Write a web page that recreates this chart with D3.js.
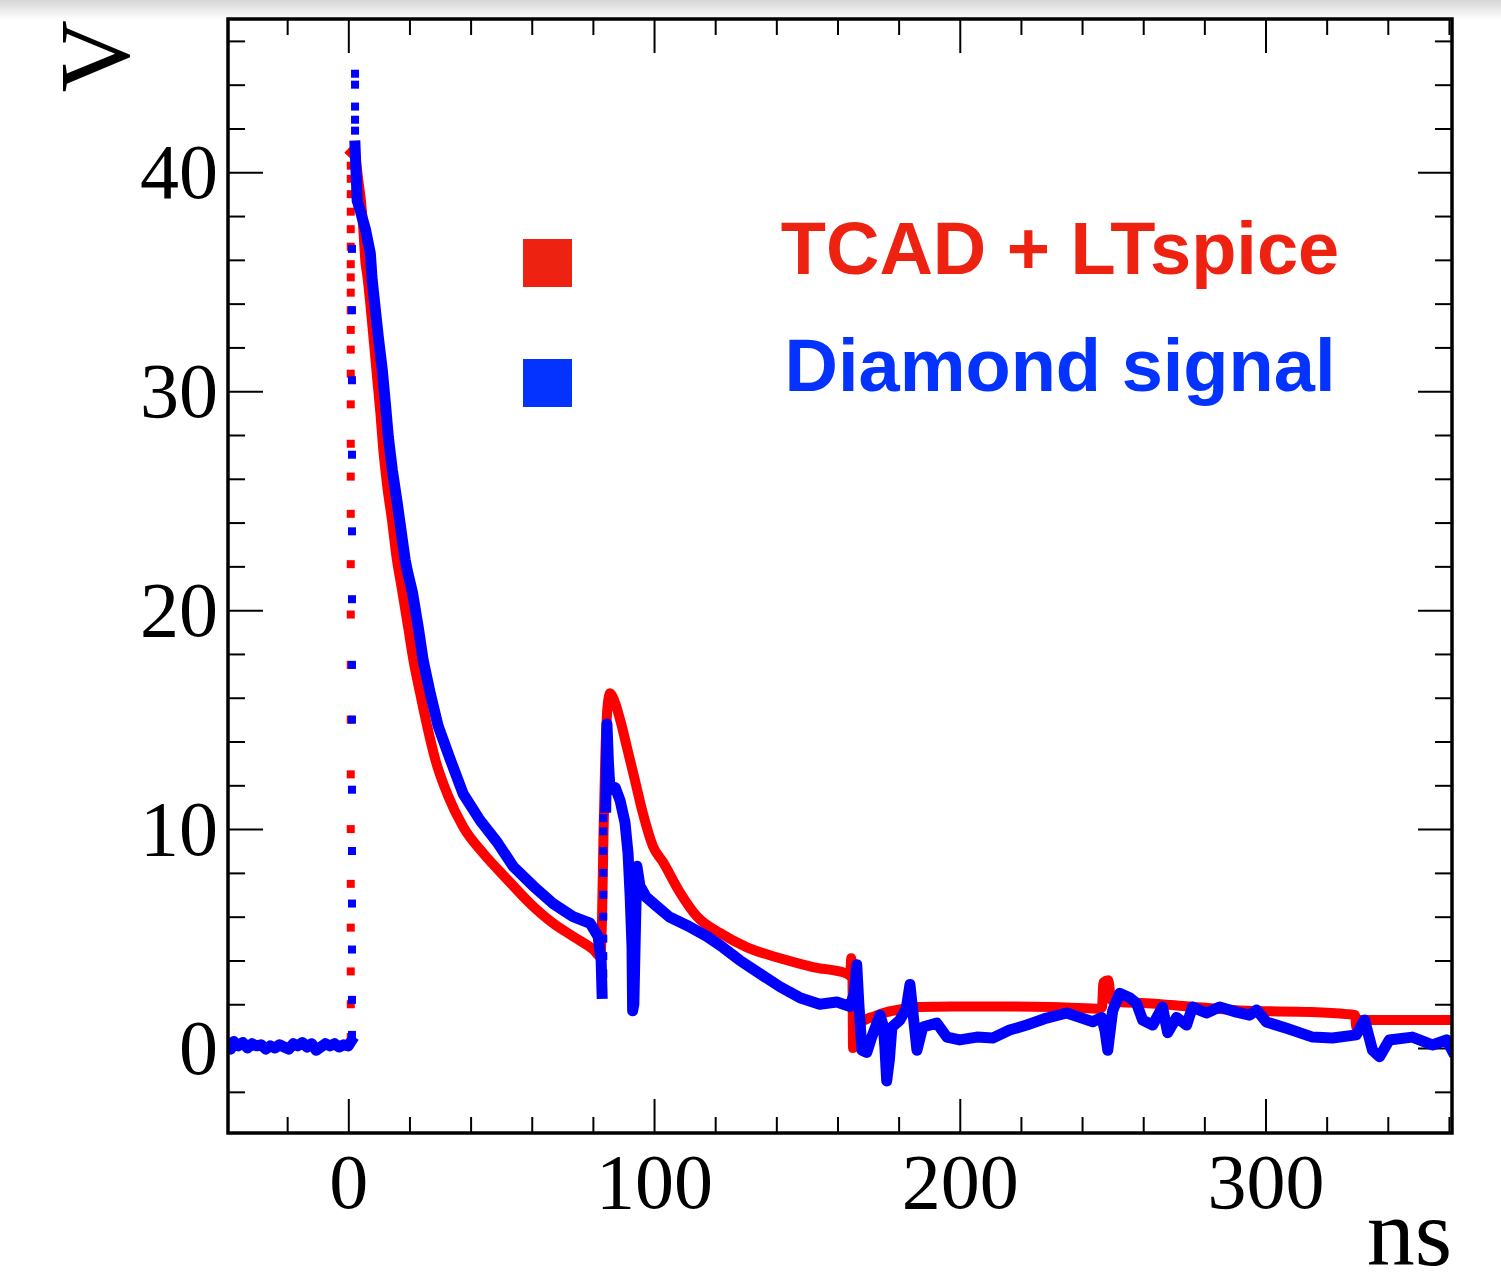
<!DOCTYPE html>
<html>
<head>
<meta charset="utf-8">
<script src="https://cdn.jsdelivr.net/npm/d3@7"></script>
<style>
  html, body { margin: 0; padding: 0; background: #fff; }
  svg { display: block; }
</style>
</head>
<body>
<svg id="chart" width="1501" height="1286"></svg>
<script>
// axis ranges (ns, V)
const xRange = [-39.35, 361.0];
const yRange = [-3.88, 47.0];
const xMajorTicks = [0, 100, 200, 300];
const yMajorTicks = [0, 10, 20, 30, 40];
const xTitle = "ns";
const yTitle = "V";

const legendLabels = ["TCAD + LTspice", "Diamond signal"];
const legendColors = ["#ee2211", "#0433ff"];

// TCAD + LTspice simulation, [ns, V]
const tcadRise = [
  [0.8, 0.5], [0.8, 2.0], [0.8, 3.5], [0.8, 5.5], [0.8, 7.5], [0.8, 10.0], [0.8, 12.5],
  [0.8, 15.0], [0.8, 17.5], [0.8, 19.8], [0.8, 22.1], [0.8, 24.4], [0.8, 26.1],
  [0.8, 27.6], [0.8, 29.4], [0.8, 30.8], [0.8, 31.9], [0.8, 32.8], [0.8, 33.7],
  [0.8, 34.5], [0.8, 35.2], [0.8, 35.8], [0.8, 36.6], [0.8, 37.4], [0.8, 38.2],
  [0.8, 39.0], [0.8, 39.7], [0.8, 40.3]
];
const tcadCurve = [
  [1.0, 40.9], [2.0, 41.0], [2.6, 40.4], [3.3, 39.6], [4.2, 38.6], [4.9, 37.4], [5.6, 35.9],
  [6.2, 35.3], [7.2, 34.0], [8.2, 32.5], [9.5, 30.5], [10.5, 29.0], [11.4, 27.4], [12.7, 25.7],
  [14.4, 24.0], [15.6, 22.6], [17.6, 20.9], [19.6, 19.2], [21.2, 17.8], [23.5, 16.2],
  [25.8, 14.7], [28.4, 13.2], [32.4, 11.6], [37.6, 10.1], [44.1, 8.9], [52.0, 7.7],
  [59.5, 6.6], [67.0, 5.7], [73.5, 5.1], [80.1, 4.5], [82.4, 4.2], [83.0, 6.0], [83.5, 10.0],
  [84.1, 13.5], [84.8, 15.6], [85.6, 16.2], [86.6, 16.0], [88.9, 15.0], [91.2, 13.7],
  [93.8, 12.2], [96.4, 10.7], [99.7, 9.2], [102.9, 8.5], [108.5, 7.1], [114.1, 6.0],
  [121.6, 5.25], [130.4, 4.6], [141.2, 4.1], [152.0, 3.7], [163.1, 3.4], [164.2, 3.3],
  [164.5, 4.1], [164.9, 3.2], [165.1, 0.0], [165.8, 0.2], [166.6, 1.0], [168.3, 1.23],
  [172.0, 1.45], [176.1, 1.64], [181.0, 1.77], [186.9, 1.87], [197.7, 1.9], [214.0, 1.9],
  [230.4, 1.87], [244.8, 1.8], [246.5, 1.85], [247.0, 3.0], [248.6, 3.1], [249.5, 2.2],
  [252.0, 2.1], [261.0, 2.05], [275.0, 1.9], [293.8, 1.7], [315.0, 1.65], [326.5, 1.55],
  [329.3, 1.5], [329.7, 0.95], [330.4, 1.0], [330.9, 1.28], [361.0, 1.28]
];

// measured diamond signal, [ns, V]
const diamondBaseline = [
  [-39.2, 0.15], [-38.5, -0.05], [-37.5, 0.3], [-36.0, 0.1], [-34.5, 0.25], [-33.0, 0.0],
  [-31.5, 0.2], [-30.0, 0.1], [-28.5, 0.15], [-27.0, -0.05], [-25.5, 0.1], [-24.0, 0.0],
  [-22.5, 0.15], [-21.0, 0.05], [-19.5, -0.05], [-18.0, 0.2], [-16.5, 0.1], [-15.0, 0.25],
  [-13.5, 0.05], [-12.0, 0.2], [-10.5, -0.1], [-9.0, 0.05], [-7.5, 0.2], [-6.0, 0.1],
  [-4.5, 0.2], [-3.0, 0.05], [-1.5, 0.15], [0.0, 0.1], [0.9, 0.3]
];
const diamondRise = [
  [1.2, 0.6], [1.2, 2.2], [1.2, 4.5], [1.2, 6.6], [1.2, 9.0], [1.2, 11.8], [1.2, 15.0],
  [1.2, 17.5], [1.2, 20.5], [1.2, 23.6], [1.2, 27.1], [1.2, 30.5], [1.2, 33.7], [1.2, 36.5],
  [2.2, 44.5], [2.2, 44.0], [2.2, 43.0], [2.2, 42.4], [2.2, 41.9],
  [83.4, 3.4], [83.4, 4.2], [83.4, 5.0], [83.4, 6.0], [83.4, 7.0], [83.4, 8.0], [83.4, 9.0],
  [83.4, 9.9], [83.4, 10.5]
];
const diamondDecay = [
  [2.2, 41.2], [2.6, 39.8], [2.9, 38.7], [4.0, 38.2], [5.6, 37.4], [7.2, 36.3], [7.8, 35.1],
  [8.8, 33.8], [9.8, 32.5], [11.1, 31.0], [12.1, 29.5], [13.1, 27.9], [14.4, 26.4],
  [16.0, 24.9], [17.6, 23.3], [18.6, 22.3], [19.3, 21.8], [21.0, 20.8], [22.9, 19.2],
  [24.5, 17.7], [26.8, 16.2], [29.4, 14.7], [33.3, 13.2], [37.6, 11.6], [43.1, 10.4],
  [48.7, 9.4], [53.9, 8.3], [60.5, 7.4], [67.0, 6.6], [73.5, 6.0], [79.1, 5.7], [81.7, 5.1],
  [82.7, 4.0], [83.0, 2.5]
];
const diamondTail = [
  [84.2, 11.0], [84.6, 14.8], [85.1, 13.0], [85.6, 11.8], [87.3, 11.9], [88.9, 11.3],
  [90.5, 10.3], [91.5, 8.9], [92.2, 6.9], [92.8, 4.6], [93.0, 1.7], [93.4, 2.0], [94.0, 6.0],
  [94.4, 8.3], [95.4, 7.4], [97.4, 6.9], [100.7, 6.5], [104.9, 6.0], [110.8, 5.6],
  [117.3, 5.1], [122.5, 4.6], [128.1, 4.0], [134.6, 3.4], [141.2, 2.8], [147.7, 2.3],
  [154.2, 2.0], [159.8, 2.1], [164.1, 1.9], [165.5, 2.5], [166.3, 3.8], [167.0, 2.0],
  [168.0, -0.1], [169.6, -0.2], [171.2, 0.5], [173.9, 1.5], [175.0, 1.0], [175.5, 0.05],
  [176.1, -1.5], [177.0, -0.5], [177.8, 0.96], [180.4, 1.28], [182.5, 1.8], [183.7, 2.9],
  [185.0, 1.2], [186.0, -0.1], [187.9, 0.96], [192.5, 1.14], [195.8, 0.5], [200.0, 0.37],
  [205.6, 0.5], [210.8, 0.46], [216.3, 0.82], [221.9, 1.05], [228.4, 1.37], [235.0, 1.6],
  [239.2, 1.4], [243.5, 1.2], [246.4, 1.4], [247.5, 0.8], [248.4, -0.1], [249.2, 0.8],
  [250.0, 1.7], [252.3, 2.5], [255.6, 2.3], [257.8, 2.05], [259.8, 1.28], [263.1, 1.05],
  [266.3, 1.87], [268.0, 0.7], [270.9, 1.4], [274.2, 1.05], [276.1, 1.87], [280.7, 1.6],
  [285.0, 1.87], [290.5, 1.64], [294.8, 1.5], [297.1, 1.74], [300.3, 1.19], [306.9, 0.9],
  [315.4, 0.5], [321.9, 0.46], [329.7, 0.6], [332.4, 1.28], [335.0, -0.1], [337.3, -0.4],
  [340.5, 0.37], [348.0, 0.5], [354.6, 0.14], [359.2, 0.37], [361.0, -0.1]
];

const W = 1501, H = 1286;
const frame = {left: 228, right: 1452, top: 19, bottom: 1133};
const serif = "'Liberation Serif', 'Times New Roman', serif";
const sans = "'Liberation Sans', Arial, Helvetica, sans-serif";

const svg = d3.select("#chart");

// soft grey shadow along the top of the page
const defs = svg.append("defs");
const grad = defs.append("linearGradient")
  .attr("id", "topShade").attr("x1", 0).attr("x2", 0).attr("y1", 0).attr("y2", 1);
grad.append("stop").attr("offset", "0%").attr("stop-color", "#d6d6d6");
grad.append("stop").attr("offset", "100%").attr("stop-color", "#ffffff");
svg.append("rect").attr("x", 0).attr("y", 0).attr("width", W).attr("height", 20)
  .attr("fill", "url(#topShade)");

defs.append("clipPath").attr("id", "plotClip")
  .append("rect")
  .attr("x", frame.left).attr("y", frame.top)
  .attr("width", frame.right - frame.left).attr("height", frame.bottom - frame.top);

const x = d3.scaleLinear().domain(xRange).range([frame.left, frame.right]);
const y = d3.scaleLinear().domain(yRange).range([frame.bottom, frame.top]);

const xMinor = d3.range(-20, 361, 20).filter(v => xMajorTicks.indexOf(v) < 0);
const yMinor = d3.range(-2, 47, 2).filter(v => yMajorTicks.indexOf(v) < 0);

// ROOT style: ticks on all four sides, pointing inwards
function drawAxis(axisFn, scale, values, size, translate, labelled, padding) {
  let axis = axisFn(scale).tickValues(values).tickSize(-size).tickPadding(padding || 3);
  if (labelled) {
    axis.tickFormat(d3.format("d"));
  } else {
    axis.tickFormat("");
  }
  let g = svg.append("g")
    .attr("transform", translate)
    .call(axis);
  // d3 puts its own font on the group, so override afterwards
  g.attr("font-family", serif).attr("font-size", 78);
  g.select(".domain").remove();
  g.selectAll(".tick line").attr("stroke", "#000").attr("stroke-width", 2);
  g.selectAll(".tick text").attr("fill", "#000");
  return g;
}

drawAxis(d3.axisBottom, x, xMajorTicks, 34, `translate(0,${frame.bottom})`, true, 20);
drawAxis(d3.axisBottom, x, xMinor, 16, `translate(0,${frame.bottom})`, false);
drawAxis(d3.axisTop, x, xMajorTicks, 34, `translate(0,${frame.top})`, false);
drawAxis(d3.axisTop, x, xMinor, 16, `translate(0,${frame.top})`, false);
drawAxis(d3.axisLeft, y, yMajorTicks, 35, `translate(${frame.left},0)`, true, 10);
drawAxis(d3.axisLeft, y, yMinor, 17, `translate(${frame.left},0)`, false);
drawAxis(d3.axisRight, y, yMajorTicks, 34, `translate(${frame.right},0)`, false);
drawAxis(d3.axisRight, y, yMinor, 17, `translate(${frame.right},0)`, false);

// curves
const smoothLine = d3.line().x(d => x(d[0])).y(d => y(d[1])).curve(d3.curveMonotoneX);
const rawLine = d3.line().x(d => x(d[0])).y(d => y(d[1]));
const plot = svg.append("g").attr("clip-path", "url(#plotClip)");

function drawSeries(segments, marks, color, line, width) {
  segments.forEach(seg => {
    plot.append("path")
      .datum(seg)
      .attr("d", line)
      .attr("fill", "none")
      .attr("stroke", color)
      .attr("stroke-width", width)
      .attr("stroke-linejoin", "round")
      .attr("stroke-linecap", "square");
  });
  // fast edges are sampled sparsely, so they show as separate square markers
  plot.append("g").selectAll("rect")
    .data(marks)
    .enter().append("rect")
    .attr("x", d => x(d[0]) - 4)
    .attr("y", d => y(d[1]) - 4)
    .attr("width", 8)
    .attr("height", 8)
    .attr("fill", color);
}

drawSeries([tcadCurve], tcadRise, "#ff0000", smoothLine, 10);
drawSeries([diamondBaseline, diamondDecay, diamondTail], diamondRise, "#0000ff", rawLine, 11);

// frame
svg.append("rect")
  .attr("x", frame.left).attr("y", frame.top)
  .attr("width", frame.right - frame.left).attr("height", frame.bottom - frame.top)
  .attr("fill", "none").attr("stroke", "#000").attr("stroke-width", 3.5);

// axis titles
svg.append("text")
  .attr("x", frame.right).attr("y", 1265)
  .attr("text-anchor", "end")
  .attr("font-family", serif).attr("font-size", 96)
  .text(xTitle);

svg.append("text")
  .attr("transform", `translate(128,${frame.top + 1}) rotate(-90)`)
  .attr("text-anchor", "end")
  .attr("font-family", serif).attr("font-size", 100)
  .text(yTitle);

// legend
const legend = svg.append("g");
legendLabels.forEach((label, i) => {
  let cy = 263 + i * 120;
  legend.append("rect")
    .attr("x", 523).attr("y", cy - 24)
    .attr("width", 49).attr("height", 48)
    .attr("fill", legendColors[i]);
  legend.append("text")
    .attr("x", 1060).attr("y", cy + 11 - i * 3)
    .attr("text-anchor", "middle")
    .attr("font-family", sans).attr("font-weight", "bold").attr("font-size", 74)
    .attr("fill", legendColors[i])
    .text(label);
});
</script>
</body>
</html>
